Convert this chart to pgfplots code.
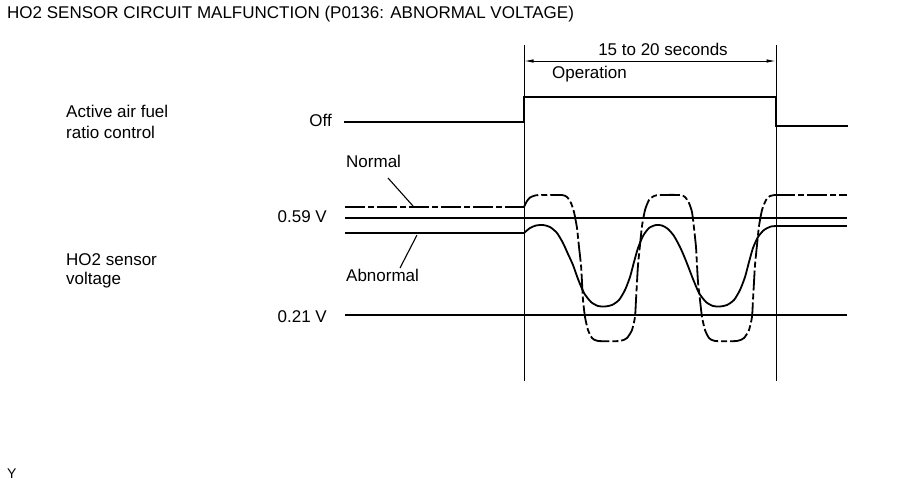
\documentclass[border=0pt]{standalone}
\usepackage{pgfplots}
\pgfplotsset{compat=1.18}
\usepackage{fontspec}
\setmainfont{Liberation Sans}
\usetikzlibrary{arrows.meta}
\begin{document}
\begin{tikzpicture}
\begin{axis}[
  width=906pt, height=483pt, scale only axis,
  xmin=0, xmax=906, ymin=0, ymax=483, y dir=reverse,
  hide axis, clip=false,
  cycle list={{black, line width=1.8pt, mark=none}},
  every axis plot/.append style={black, mark=none},
]
\path (rel axis cs:0,0) rectangle (rel axis cs:1,1);
% vertical guides
\addplot[black, line width=0.8pt] coordinates {(524,45) (524,381)};
\addplot[black, line width=0.8pt] coordinates {(776,45) (776,381)};
% arrow
\addplot[black, line width=0.8pt, {Latex[length=9pt,width=3.5pt]}-{Latex[length=9pt,width=3.5pt]}] coordinates {(524.5,61) (775.5,61)};
% active air fuel ratio control
\addplot[black, line width=1.8pt, line cap=rect] coordinates {(345,122) (524,122) (524,97) (776,97) (776,126) (847,126)};
% reference lines
\addplot[black, line width=1.9pt] coordinates {(345,218) (847,218)};
\addplot[black, line width=1.9pt] coordinates {(345,315) (847,315)};
% normal
\addplot[black, line width=1.8pt, dash pattern=on 20pt off 3pt on 6pt off 3pt] coordinates {(345,207) (524,207)};
\addplot[black, line width=1.8pt, smooth, tension=0.35, dash pattern=on 20pt off 3pt on 6pt off 3pt] coordinates {
(524,207) (527,201) (530,197.5) (535,195.5) (540,195) (562,195) (567,197) (571,203) (574,212) (577,228) (579,247) (581,265) (582,282) (583,300) (585,317) (588,330) (592,338) (598,341) (620,341) (627,338) (632,330) (635,317) (636,300) (637,282) (638,265) (640,245) (642,226) (645,210) (649,200) (654,196) (660,195) (680,195) (685,197) (689,203) (692,212) (694,228) (696,247) (697,265) (698,282) (700,300) (702,317) (705,330) (709,338) (715,341) (737,341) (744,338) (749,330) (752,317) (753,300) (754,282) (755,265) (757,245) (759,226) (762,210) (766,200) (770,196) (775,195)};
\addplot[black, line width=1.8pt, dash pattern=on 20pt off 3pt on 6pt off 3pt] coordinates {(775,195) (847,195)};
% abnormal
\addplot[black, line width=1.8pt] coordinates {(345,233) (524,233)};
\addplot[black, line width=1.8pt, smooth, tension=0.4] coordinates {
(524,233) (530,228) (536,225.5) (543,225) (550,227) (557,233) (563,243) (568,254) (573,265) (578,279) (584,293) (591,302) (598,306) (605,306.5) (612,305) (619,300) (625,290) (630,277) (634,262) (638,248) (643,236) (649,228) (656,225) (662,225.5) (668,229) (674,236) (680,247) (684,256) (688,266) (693,279) (699,293) (706,302) (713,306) (720,306.5) (727,305) (734,300) (740,290) (745,277) (749,262) (753,248) (758,237) (764,230) (771,226.5) (778,226)};
\addplot[black, line width=1.8pt] coordinates {(778,226) (847,226)};
% leaders
\addplot[black, line width=1.1pt] coordinates {(388,178) (413,206)};
\addplot[black, line width=1.1pt] coordinates {(417,235) (400,268)};
% texts
\begin{scope}[every node/.style={inner sep=0pt, font=\fontsize{17}{20}\selectfont}]
\node[anchor=base west] at (axis cs:7,18) {HO2 SENSOR CIRCUIT MALFUNCTION (P0136: ABNORMAL VOLTAGE)};
\node[anchor=base] at (axis cs:663,55) {15 to 20 seconds};
\node[anchor=base west] at (axis cs:552,78) {Operation};
\node[anchor=base west] at (axis cs:66,117) {Active air fuel};
\node[anchor=base west] at (axis cs:66,138) {ratio control};
\node[anchor=base east] at (axis cs:332,126) {Off};
\node[anchor=base west] at (axis cs:346,167) {Normal};
\node[anchor=base east] at (axis cs:327,222) {0.59 V};
\node[anchor=base west] at (axis cs:66,265) {HO2 sensor};
\node[anchor=base west] at (axis cs:66,284) {voltage};
\node[anchor=base west] at (axis cs:346,281) {Abnormal};
\node[anchor=base east] at (axis cs:327,322) {0.21 V};
\node[anchor=base west, font=\fontsize{14}{16}\selectfont] at (axis cs:7,478) {Y};
\end{scope}
\end{axis}
\end{tikzpicture}
\end{document}
